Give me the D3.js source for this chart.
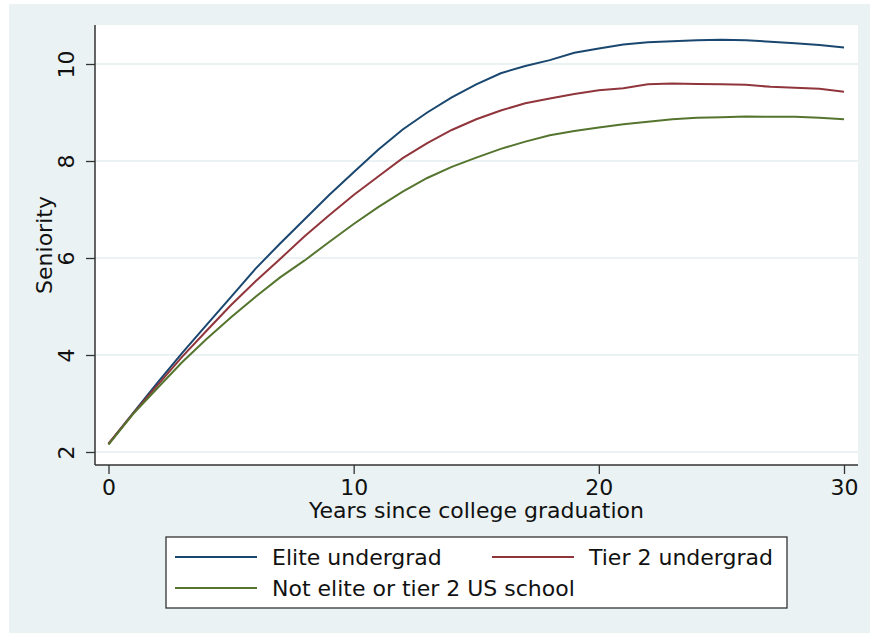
<!DOCTYPE html>
<html><head><meta charset="utf-8">
<script src="https://cdn.jsdelivr.net/npm/d3@7"></script>
<style>body{margin:0;background:#fff}svg{display:block}</style>
</head><body>
<svg id="c" width="870" height="635"></svg>
<script>
const years = d3.range(0, 31);
const elite = [2.17,2.8,3.43,4.04,4.62,5.2,5.78,6.3,6.8,7.3,7.77,8.23,8.65,9.0,9.31,9.58,9.81,9.96,10.08,10.23,10.32,10.4,10.45,10.47,10.49,10.5,10.49,10.46,10.43,10.39,10.34];
const tier2 = [2.17,2.79,3.38,3.96,4.5,5.03,5.52,5.98,6.45,6.88,7.3,7.68,8.06,8.37,8.64,8.86,9.04,9.19,9.29,9.38,9.46,9.5,9.58,9.6,9.59,9.58,9.57,9.53,9.51,9.49,9.43];
const other = [2.15,2.78,3.32,3.85,4.33,4.78,5.2,5.6,5.95,6.33,6.7,7.05,7.37,7.65,7.88,8.07,8.25,8.4,8.53,8.62,8.69,8.76,8.81,8.86,8.89,8.9,8.92,8.91,8.91,8.89,8.86];
const seriesNames = ["Elite undergrad","Tier 2 undergrad","Not elite or tier 2 US school"];
const seriesColors = ["#1a476f","#90353b","#55752f"];
const xTicks = [0,10,20,30];
const yTicks = [2,4,6,8,10];
const xTitle = "Years since college graduation";
const yTitle = "Seniority";

const svg = d3.select("#c");
const font = "'DejaVu Sans', sans-serif";
const fs = 22;
svg.append("rect").attr("x",9).attr("y",4).attr("width",861).attr("height",629).attr("fill","#eaf2f3");
const L=95,T=25,R=858,B=465;
svg.append("rect").attr("x",L).attr("y",T).attr("width",R-L).attr("height",B-T).attr("fill","#fff");

const x = d3.scaleLinear().domain([0,30]).range([108.5,844]);
const y = d3.scaleLinear().domain([2,10]).range([452,64]);

// gridlines
svg.append("g").selectAll("line").data(yTicks).join("line")
  .attr("x1",L).attr("x2",R).attr("y1",d=>y(d)).attr("y2",d=>y(d))
  .attr("stroke","#e4eef0").attr("stroke-width",1.5);

// lines
const data = [elite,tier2,other];
const line = d3.line().x((d,i)=>x(years[i])).y(d=>y(d));
svg.append("g").selectAll("path").data(data).join("path")
  .attr("d",line).attr("fill","none").attr("stroke",(d,i)=>seriesColors[i]).attr("stroke-width",2);

// axes
const xa = svg.append("g").attr("transform",`translate(0,${B})`)
  .call(d3.axisBottom(x).tickValues(xTicks).tickSize(9).tickPadding(5).tickFormat(d3.format("d")));
xa.select(".domain").attr("d",`M${L},0H${R}`).attr("stroke","#333").attr("stroke-width",1.5);
xa.selectAll(".tick line").attr("stroke","#333").attr("stroke-width",1.3);
xa.selectAll("text").attr("font-family",font).attr("font-size",fs).attr("fill","#111");

const ya = svg.append("g").attr("transform",`translate(${L},0)`)
  .call(d3.axisLeft(y).tickValues(yTicks).tickSize(9).tickFormat(d3.format("d")));
ya.select(".domain").attr("d",`M0,${T}V${B}`).attr("stroke","#333").attr("stroke-width",1.5);
ya.selectAll(".tick line").attr("stroke","#333").attr("stroke-width",1.3);
ya.selectAll("text").attr("font-family",font).attr("font-size",fs).attr("fill","#111")
  .attr("x",0).attr("dy",null).attr("text-anchor","middle").attr("dominant-baseline","central")
  .attr("transform","translate(-29,0) rotate(-90)");

svg.append("text").attr("x",476.5).attr("y",518).attr("text-anchor","middle")
  .attr("font-family",font).attr("font-size",fs).attr("fill","#111").text(xTitle);
svg.append("text").attr("transform","translate(52,245) rotate(-90)").attr("text-anchor","middle")
  .attr("font-family",font).attr("font-size",fs).attr("fill","#111").text(yTitle);

// legend
const lg = svg.append("g");
lg.append("rect").attr("x",166).attr("y",537).attr("width",621).attr("height",71)
  .attr("fill","#fff").attr("stroke","#333").attr("stroke-width",1.3);
const legPos = [[175,557],[492,557],[175,588]];
seriesNames.forEach((n,i)=>{
  const [lx,ly]=legPos[i];
  lg.append("line").attr("x1",lx).attr("x2",lx+82).attr("y1",ly).attr("y2",ly)
    .attr("stroke",seriesColors[i]).attr("stroke-width",2);
  lg.append("text").attr("x",lx+97).attr("y",ly).attr("dominant-baseline","central")
    .attr("font-family",font).attr("font-size",fs).attr("fill","#111").text(n);
});
</script>
</body></html>
